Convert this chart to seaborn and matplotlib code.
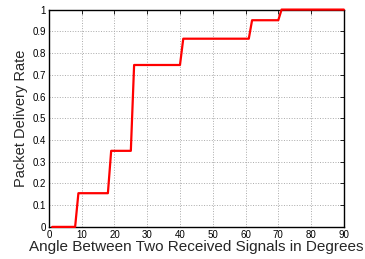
import numpy as np
import pandas as pd
import matplotlib
matplotlib.use("Agg")
import matplotlib.pyplot as plt
import seaborn as sns

# step curve
angle = [1, 8, 9, 18, 19, 25, 26, 40, 41, 61, 62, 70, 71, 90]
pdr = [0, 0, 0.155, 0.155, 0.35, 0.35, 0.745, 0.745, 0.866, 0.866, 0.951, 0.951, 1, 1]

x_ticks = list(range(0, 91, 10))
y_ticks = [0, 0.1, 0.2, 0.3, 0.4, 0.5, 0.6, 0.7, 0.8, 0.9, 1]
y_tick_labels = ["0", "0.1", "0.2", "0.3", "0.4", "0.5", "0.6", "0.7", "0.8", "0.9", "1"]

sns.set_style("white")
plt.rcParams['font.family'] = ['Liberation Sans', 'DejaVu Sans']

df = pd.DataFrame({"angle": angle, "pdr": pdr})

fig = plt.figure(figsize=(3.65, 2.59), dpi=100)
ax = fig.add_axes([0.134, 0.124, 0.808, 0.839])

sns.lineplot(data=df, x="angle", y="pdr", color="#ff0000", linewidth=1.6, ax=ax,
             sort=False, estimator=None)
for ln in ax.get_lines():
    ln.set_clip_on(False)
    ln.set_zorder(5)

ax.set_xlim(0, 90)
ax.set_ylim(0, 1)
ax.set_xticks(x_ticks)
ax.set_yticks(y_ticks)
ax.set_yticklabels(y_tick_labels)
ax.tick_params(direction="in", length=3, width=0.6, labelsize=7, pad=2,
               top=True, right=True, colors="black")
ax.grid(True, linestyle=":", color="#aaaaaa", linewidth=0.7)
for s in ax.spines.values():
    s.set_color("black")
    s.set_linewidth(1.0)

ax.set_xlabel("Angle Between Two Received Signals in Degrees", fontsize=11, labelpad=0)
ax.set_ylabel("Packet Delivery Rate", fontsize=10.5, labelpad=3)

fig.savefig("out.png", dpi=100)
